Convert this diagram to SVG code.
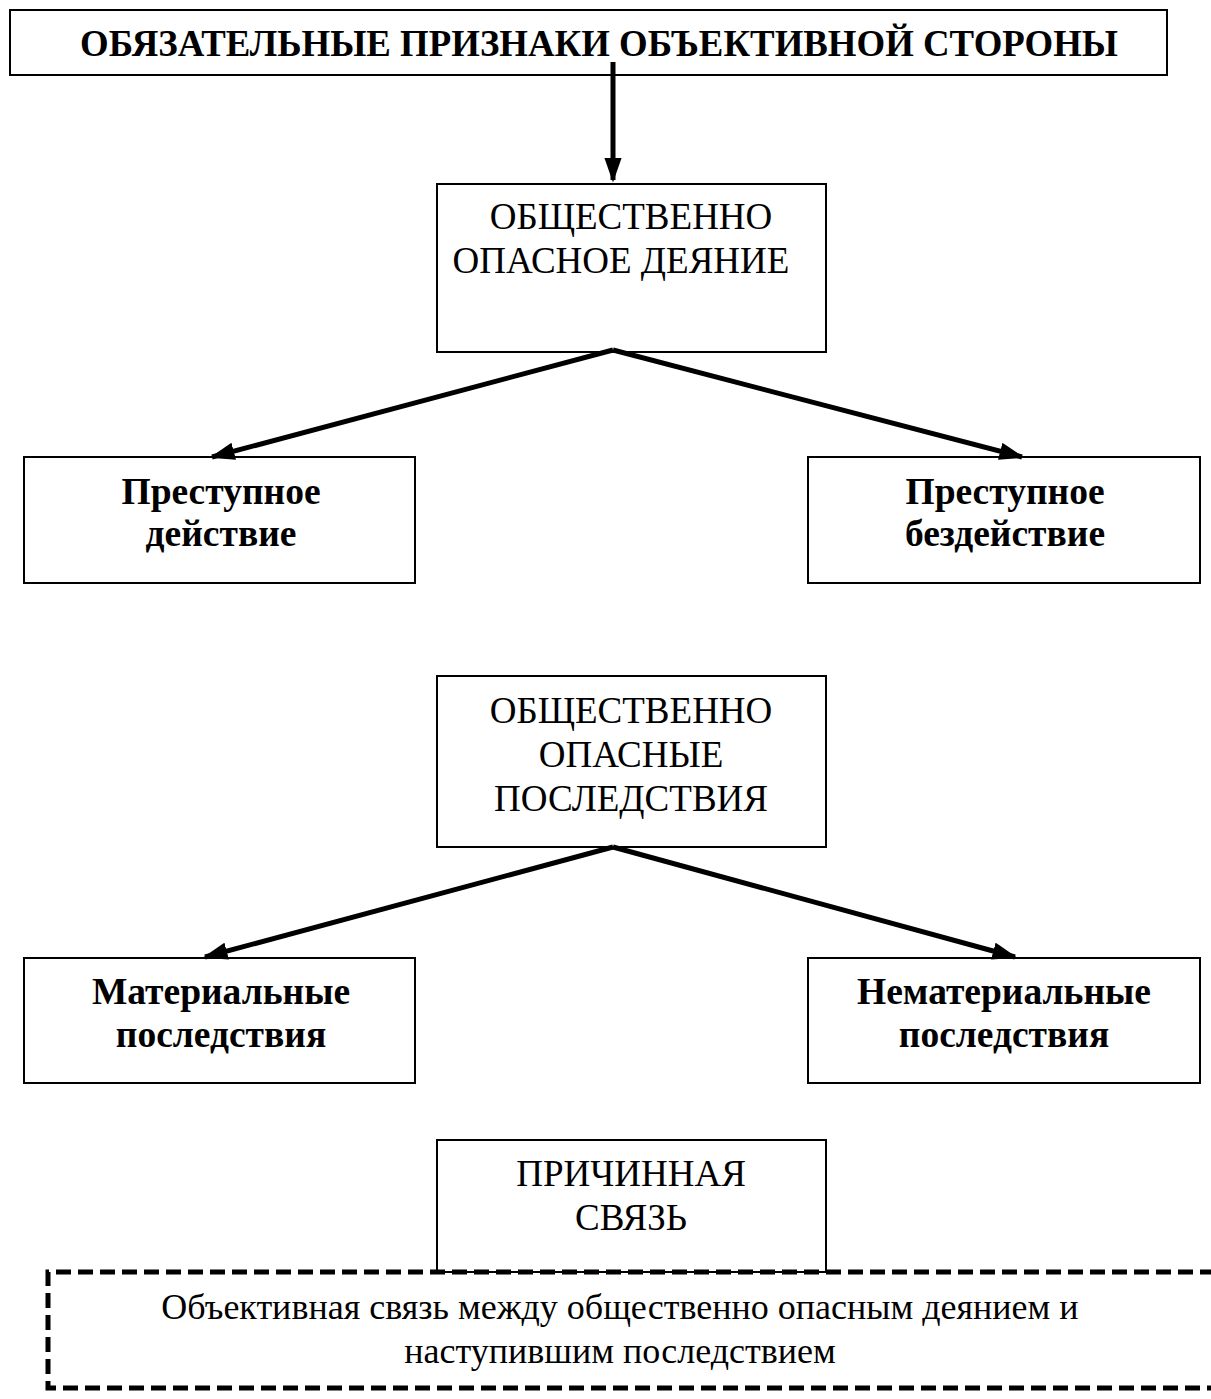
<svg xmlns="http://www.w3.org/2000/svg" width="1211" height="1399" viewBox="0 0 1211 1399">
<defs>
<style>
.box{fill:#fff;stroke:#000;stroke-width:2}
.t{font-family:"Liberation Serif","Times New Roman",serif;font-size:37px;text-anchor:middle;fill:#000}
.b{font-weight:bold;font-size:37.5px}
.s{font-size:36px}
.c{stroke:#000;stroke-width:5;fill:none}
.dash{fill:none;stroke:#000;stroke-width:5;stroke-dasharray:15 7}
</style>
<marker id="ah" viewBox="0 0 10 10" refX="9" refY="5" markerWidth="5" markerHeight="3.5" orient="auto" markerUnits="strokeWidth" preserveAspectRatio="none">
<path d="M0,0 L10,5 L0,10 Z" fill="#000"/>
</marker>
</defs>
<rect width="1211" height="1399" fill="#fff"/>
<g id="title">
<rect class="box" x="10" y="10" width="1157" height="65"/>
<text class="t b" x="599" y="56" textLength="1038" lengthAdjust="spacingAndGlyphs">ОБЯЗАТЕЛЬНЫЕ ПРИЗНАКИ ОБЪЕКТИВНОЙ СТОРОНЫ</text>
</g>
<g id="deed">
<rect class="box" x="437" y="184" width="389" height="168"/>
<text class="t" x="631" y="229">ОБЩЕСТВЕННО</text>
<text class="t" x="621" y="273">ОПАСНОЕ ДЕЯНИЕ</text>
</g>
<g id="action">
<rect class="box" x="24" y="457" width="391" height="126"/>
<text class="t b" x="221" y="504">Преступное</text>
<text class="t b" x="221" y="546">действие</text>
</g>
<g id="inaction">
<rect class="box" x="808" y="457" width="392" height="126"/>
<text class="t b" x="1005" y="504">Преступное</text>
<text class="t b" x="1005" y="546">бездействие</text>
</g>
<g id="consequences">
<rect class="box" x="437" y="676" width="389" height="171"/>
<text class="t" x="631" y="723">ОБЩЕСТВЕННО</text>
<text class="t" x="631" y="767">ОПАСНЫЕ</text>
<text class="t" x="631" y="811">ПОСЛЕДСТВИЯ</text>
</g>
<g id="material">
<rect class="box" x="24" y="958" width="391" height="125"/>
<text class="t b" x="221" y="1004">Материальные</text>
<text class="t b" x="221" y="1047">последствия</text>
</g>
<g id="nonmaterial">
<rect class="box" x="808" y="958" width="392" height="125"/>
<text class="t b" x="1004" y="1004">Нематериальные</text>
<text class="t b" x="1004" y="1047">последствия</text>
</g>
<g id="causal">
<rect class="box" x="437" y="1140" width="389" height="132"/>
<text class="t" x="631" y="1186">ПРИЧИННАЯ</text>
<text class="t" x="631" y="1230">СВЯЗЬ</text>
</g>
<g id="definition">
<path class="dash" d="M1215,1272 H48 V1388 H1215"/>
<text class="t s" x="620" y="1319">Объективная связь между общественно опасным деянием и</text>
<text class="t s" x="620" y="1363">наступившим последствием</text>
</g>
<g id="connectors">
<line class="c" x1="613" y1="62" x2="613" y2="180" marker-end="url(#ah)"/>
<line class="c" x1="613" y1="350" x2="212" y2="457" marker-end="url(#ah)"/>
<line class="c" x1="613" y1="350" x2="1022" y2="457" marker-end="url(#ah)"/>
<line class="c" x1="613" y1="847" x2="205" y2="957" marker-end="url(#ah)"/>
<line class="c" x1="613" y1="847" x2="1015" y2="957" marker-end="url(#ah)"/>
</g>
</svg>
